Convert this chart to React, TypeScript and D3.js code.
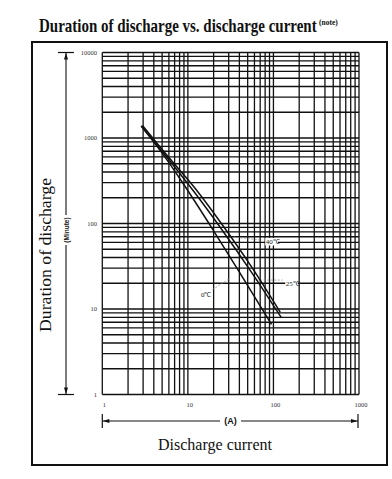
import React, { useEffect, useRef } from 'react';
import * as d3 from 'd3';

// axis ticks
const currentTicks = [1, 10, 100, 1000];
const durationTicks = [1, 10, 100, 1000, 10000];

// curves (A, minutes)
const current0C = [2.85, 5, 9, 18, 40, 95];
const duration0C = [1380, 665, 284, 97, 27, 6.6];
const current25C = [2.85, 6, 12, 25, 55, 124];
const duration25C = [1380, 557, 230, 84.5, 27.2, 7.9];
const current40C = [2.95, 6, 12, 25, 55, 120];
const duration40C = [1400, 590, 262, 98, 31.5, 9.2];

// temperature labels and their leader lines
const tempLabels = ['0℃', '25℃', '40℃'];
const labelCurrent = [14.2, 139, 81.3];
const labelDuration = [14.6, 20.1, 60.8];
const leaderFrom = [[30.1, 22.4], [63.9, 21.8], [34.4, 69.5]];
const leaderTo = [[19.05, 16.7], [128, 21.8], [73, 64]];

function App() {
  const ref = useRef(null);

  useEffect(() => {
    const root = d3.select(ref.current);
    root.selectAll('*').remove();

    const svg = root
      .append('svg')
      .attr('width', 392)
      .attr('height', 479)
      .style('display', 'block')
      .style('background', '#fff');

    const x = d3.scaleLog().domain([1, 1000]).range([102.3, 359]);
    const y = d3.scaleLog().domain([1, 10000]).range([394.5, 52.5]);

    // title: condensed bold serif, squeezed to the width of the original
    const title = svg.append('text')
      .attr('font-family', 'Liberation Serif')
      .attr('font-weight', 'bold')
      .attr('font-size', 18)
      .attr('fill', '#111')
      .text('Duration of discharge vs. discharge current');
    const tw = title.node().getComputedTextLength() || 340;
    title.attr('transform', `translate(39,32) scale(${278 / tw},1)`);
    svg.append('text')
      .attr('x', 319)
      .attr('y', 25)
      .attr('font-family', 'Liberation Serif')
      .attr('font-weight', 'bold')
      .attr('font-size', 7.5)
      .attr('fill', '#111')
      .text('(note)');

    // frame
    svg.append('rect')
      .attr('x', 32)
      .attr('y', 42)
      .attr('width', 355)
      .attr('height', 423)
      .attr('fill', 'none')
      .attr('stroke', '#111')
      .attr('stroke-width', 2);

    // grid
    const xGrid = [];
    [1, 10, 100].forEach((d) => d3.range(1, 10).forEach((k) => xGrid.push(d * k)));
    xGrid.push(1000);
    const yGrid = [];
    [1, 10, 100, 1000].forEach((d) => d3.range(1, 10).forEach((k) => yGrid.push(d * k)));
    yGrid.push(10000);

    const grid = svg.append('g').attr('stroke', '#111').attr('stroke-width', 1.3);
    grid.selectAll('.vx')
      .data(xGrid)
      .enter()
      .append('line')
      .attr('x1', (d) => x(d))
      .attr('x2', (d) => x(d))
      .attr('y1', y(10000))
      .attr('y2', y(1));
    grid.selectAll('.hy')
      .data(yGrid)
      .enter()
      .append('line')
      .attr('x1', x(1))
      .attr('x2', x(1000))
      .attr('y1', (d) => y(d))
      .attr('y2', (d) => y(d));

    // tick labels
    svg.append('g')
      .selectAll('text')
      .data(currentTicks)
      .enter()
      .append('text')
      .attr('x', (d) => x(d) + 2)
      .attr('y', 407)
      .attr('text-anchor', 'middle')
      .attr('font-family', 'Liberation Serif')
      .attr('font-size', 6.5)
      .attr('fill', '#333')
      .text((d) => d);
    svg.append('g')
      .selectAll('text')
      .data(durationTicks)
      .enter()
      .append('text')
      .attr('x', 97)
      .attr('y', (d) => y(d) + 2)
      .attr('text-anchor', 'end')
      .attr('font-family', 'Liberation Serif')
      .attr('font-size', 6.5)
      .attr('fill', '#333')
      .text((d) => d);

    // temperature labels (under the curves)
    tempLabels.forEach((t, i) => {
      svg.append('line')
        .attr('x1', x(leaderFrom[i][0]))
        .attr('y1', y(leaderFrom[i][1]))
        .attr('x2', x(leaderTo[i][0]))
        .attr('y2', y(leaderTo[i][1]))
        .attr('stroke', '#888')
        .attr('stroke-width', 0.7)
        .attr('stroke-dasharray', '2,1.5');
      const lx = x(labelCurrent[i]);
      const ly = y(labelDuration[i]);
      const w = t.length * 4.2;
      svg.append('rect')
        .attr('x', lx - 0.5)
        .attr('y', ly - 4)
        .attr('width', w)
        .attr('height', 7.5)
        .attr('fill', '#fff');
      svg.append('text')
        .attr('x', lx)
        .attr('y', ly + 2.5)
        .attr('font-family', 'Liberation Serif')
        .attr('font-size', 7)
        .attr('fill', '#222')
        .text(t);
    });

    // curves
    const line = d3.line()
      .x((d) => x(d[0]))
      .y((d) => y(d[1]))
      .curve(d3.curveMonotoneX);
    [
      [current0C, duration0C],
      [current25C, duration25C],
      [current40C, duration40C],
    ].forEach(([cs, ds]) => {
      svg.append('path')
        .datum(cs.map((c, i) => [c, ds[i]]))
        .attr('d', line)
        .attr('fill', 'none')
        .attr('stroke', '#111')
        .attr('stroke-width', 1.5);
    });

    // dimension arrows
    const arrows = svg.append('g').attr('stroke', '#111').attr('fill', '#111');
    const ax = 66;
    const yTop = y(10000);
    const yBot = y(1);
    arrows.append('line').attr('x1', ax).attr('x2', ax).attr('y1', yTop).attr('y2', 215).attr('stroke-width', 1.1);
    arrows.append('line').attr('x1', ax).attr('x2', ax).attr('y1', 245).attr('y2', yBot).attr('stroke-width', 1.1);
    arrows.append('line').attr('x1', 58).attr('x2', 74).attr('y1', yTop).attr('y2', yTop).attr('stroke-width', 1.2);
    arrows.append('line').attr('x1', 58).attr('x2', 74).attr('y1', yBot).attr('y2', yBot).attr('stroke-width', 1.2);
    arrows.append('path').attr('stroke', 'none')
      .attr('d', `M${ax},${yTop + 0.5}L${ax - 2},${yTop + 7}L${ax + 2},${yTop + 7}Z`);
    arrows.append('path').attr('stroke', 'none')
      .attr('d', `M${ax},${yBot - 0.5}L${ax - 2},${yBot - 7}L${ax + 2},${yBot - 7}Z`);

    const ay = 421;
    const xL = x(1);
    const xR = x(1000) - 1;
    arrows.append('line').attr('x1', xL).attr('x2', 220).attr('y1', ay).attr('y2', ay).attr('stroke-width', 1.1);
    arrows.append('line').attr('x1', 241).attr('x2', xR).attr('y1', ay).attr('y2', ay).attr('stroke-width', 1.1);
    arrows.append('line').attr('x1', xL).attr('x2', xL).attr('y1', 414).attr('y2', 428).attr('stroke-width', 1.2);
    arrows.append('line').attr('x1', xR).attr('x2', xR).attr('y1', 414).attr('y2', 428).attr('stroke-width', 1.2);
    arrows.append('path').attr('stroke', 'none')
      .attr('d', `M${xL + 0.5},${ay}L${xL + 7},${ay - 2}L${xL + 7},${ay + 2}Z`);
    arrows.append('path').attr('stroke', 'none')
      .attr('d', `M${xR - 0.5},${ay}L${xR - 7},${ay - 2}L${xR - 7},${ay + 2}Z`);

    svg.append('text')
      .attr('x', 230.5)
      .attr('y', ay + 3)
      .attr('text-anchor', 'middle')
      .attr('font-family', 'Liberation Sans')
      .attr('font-weight', 'bold')
      .attr('font-size', 9)
      .attr('fill', '#111')
      .text('(A)');

    svg.append('text')
      .attr('transform', `translate(${ax + 2.5},230) rotate(-90)`)
      .attr('text-anchor', 'middle')
      .attr('font-family', 'Liberation Sans')
      .attr('font-weight', 'bold')
      .attr('font-size', 6.5)
      .attr('fill', '#111')
      .text('(Minute)');

    // axis titles
    svg.append('text')
      .attr('x', 215)
      .attr('y', 450)
      .attr('text-anchor', 'middle')
      .attr('font-family', 'Liberation Serif')
      .attr('font-size', 16)
      .attr('fill', '#111')
      .attr('textLength', 114)
      .attr('lengthAdjust', 'spacingAndGlyphs')
      .text('Discharge current');

    svg.append('text')
      .attr('transform', 'translate(51,255) rotate(-90)')
      .attr('text-anchor', 'middle')
      .attr('font-family', 'Liberation Serif')
      .attr('font-size', 17)
      .attr('fill', '#111')
      .attr('textLength', 154)
      .attr('lengthAdjust', 'spacingAndGlyphs')
      .text('Duration of discharge');
  }, []);

  return <div ref={ref} style={{ position: 'absolute', left: 0, top: 0 }} />;
}

export default App;
